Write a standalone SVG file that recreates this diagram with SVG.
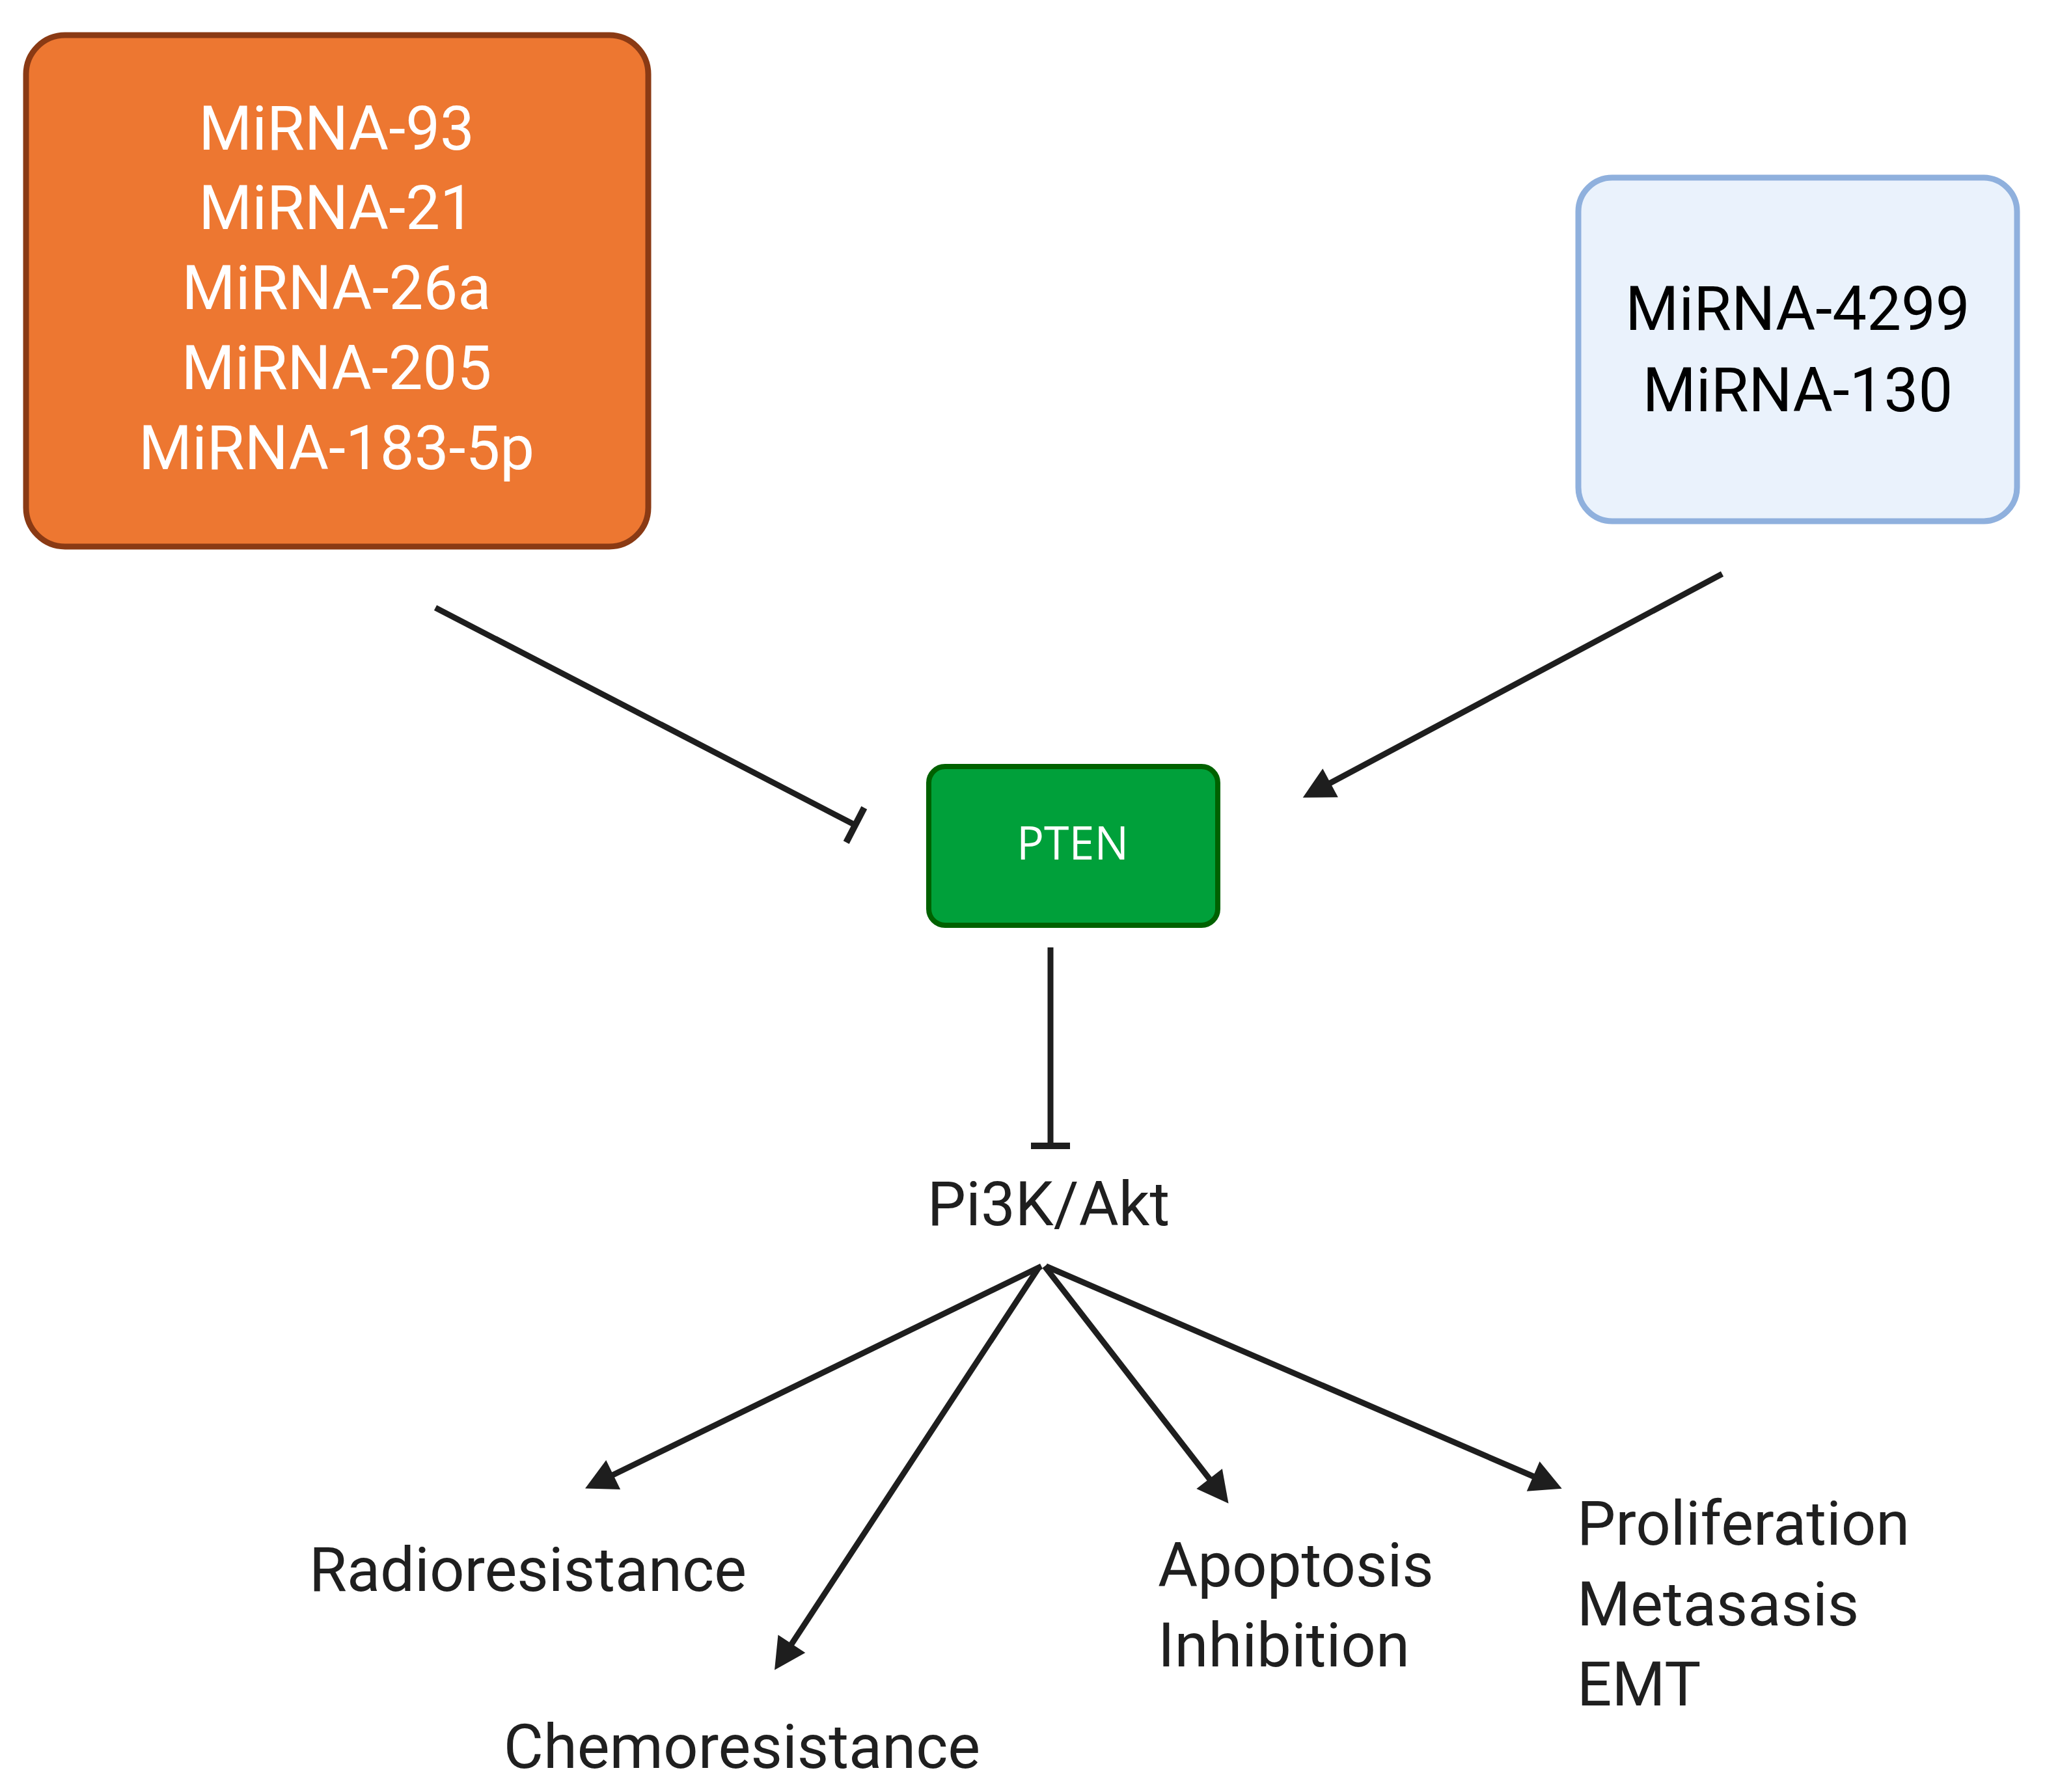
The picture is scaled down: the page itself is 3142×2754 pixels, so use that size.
<svg xmlns="http://www.w3.org/2000/svg" width="3142" height="2754" viewBox="0 0 3142 2754">
<defs>
<style>
.lbl{font-family:Roboto,"Liberation Sans",sans-serif;font-size:94px;fill:#1f1f1f}
.w{fill:#ffffff}
.k{fill:#000000}
.mid{text-anchor:middle}
.conn{stroke:#1e1e1e;stroke-width:9;fill:none}
</style>
<marker id="arrow" markerUnits="userSpaceOnUse" viewBox="0 0 48 50" markerWidth="48" markerHeight="50" refX="8" refY="25" orient="auto" overflow="visible">
<path d="M0,0 L48,25 L0,50 Z" fill="#1e1e1e"/>
</marker>
<marker id="bar" markerUnits="userSpaceOnUse" viewBox="-5 -30 10 60" markerWidth="10" markerHeight="60" refX="0" refY="0" orient="auto" overflow="visible">
<line x1="0" y1="-30" x2="0" y2="30" stroke="#1e1e1e" stroke-width="10"/>
</marker>
</defs>
<rect width="3142" height="2754" fill="#ffffff"/>

<g id="node-orange">
<rect x="40" y="54" width="956" height="786" rx="60" ry="60" fill="#ED7731" stroke="#8A3A14" stroke-width="9"/>
<text class="lbl w mid" x="517" y="230">MiRNA-93</text>
<text class="lbl w mid" x="517" y="352">MiRNA-21</text>
<text class="lbl w mid" x="517" y="475">MiRNA-26a</text>
<text class="lbl w mid" x="517" y="598">MiRNA-205</text>
<text class="lbl w mid" x="517" y="721">MiRNA-183-5p</text>
</g>

<g id="node-blue">
<rect x="2425" y="273" width="674" height="528" rx="52" ry="52" fill="#EAF2FC" stroke="#8FB0DD" stroke-width="9"/>
<text class="lbl k mid" x="2762" y="507">MiRNA-4299</text>
<text class="lbl k mid" x="2762" y="632">MiRNA-130</text>
</g>

<g id="node-pten">
<rect x="1427" y="1178" width="444" height="244" rx="25" ry="25" fill="#00A03A" stroke="#006100" stroke-width="8"/>
<text class="w mid" style="font-family:'Open Sans','Liberation Sans',sans-serif;font-size:72px" x="1648" y="1321" textLength="172" lengthAdjust="spacingAndGlyphs">PTEN</text>
</g>

<g id="node-pi3k">
<text class="lbl mid" x="1611" y="1883">Pi3K/Akt</text>
</g>

<g id="node-radio">
<text class="lbl mid" x="811" y="2445">Radioresistance</text>
</g>

<g id="node-chemo">
<text class="lbl mid" x="1140" y="2717">Chemoresistance</text>
</g>

<g id="node-apoptosis">
<text class="lbl" x="1779" y="2438">Apoptosis</text>
<text class="lbl" x="1779" y="2561">Inhibition</text>
</g>

<g id="node-prolif">
<text class="lbl" x="2423" y="2374">Proliferation</text>
<text class="lbl" x="2423" y="2498">Metasasis</text>
<text class="lbl" x="2423" y="2621">EMT</text>
</g>

<g id="connectors">
<line class="conn" x1="669" y1="934" x2="1314" y2="1268" marker-end="url(#bar)"/>
<line class="conn" x1="2646" y1="882" x2="2037" y2="1207" marker-end="url(#arrow)"/>
<line class="conn" x1="1614" y1="1456" x2="1614" y2="1761" marker-end="url(#bar)"/>
<line class="conn" x1="1600" y1="1946" x2="935" y2="2270" marker-end="url(#arrow)"/>
<line class="conn" x1="1596" y1="1948" x2="1212" y2="2533" marker-end="url(#arrow)"/>
<line class="conn" x1="1605" y1="1946" x2="1863" y2="2279" marker-end="url(#arrow)"/>
<line class="conn" x1="1607" y1="1946" x2="2363" y2="2272" marker-end="url(#arrow)"/>
</g>
</svg>
